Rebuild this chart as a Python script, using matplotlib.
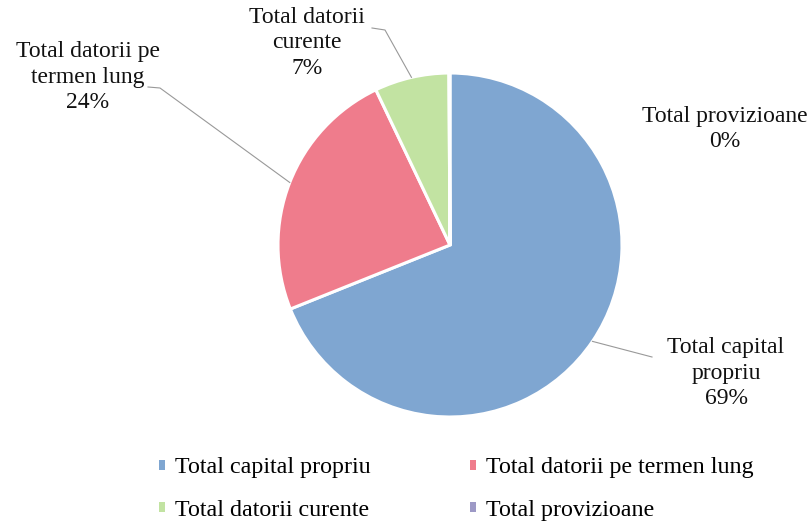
import numpy as np
import matplotlib
matplotlib.use("Agg")
import matplotlib.pyplot as plt

categories = ["Total capital propriu", "Total datorii pe termen lung",
              "Total datorii curente", "Total provizioane"]
label_texts = ["Total capital\npropriu", "Total datorii pe\ntermen lung",
               "Total datorii\ncurente", "Total provizioane"]
values = [69.0, 24.0, 7.0, 0.1]
colors = ["#7FA6D1", "#EF7C8C", "#C2E3A2", "#9D99C6"]

plt.rcParams['font.family'] = 'serif'
plt.rcParams['font.serif'] = ['Liberation Serif', 'DejaVu Serif']

W, H = 812, 525
fig = plt.figure(figsize=(W / 100, H / 100), dpi=100)
ax = fig.add_axes([0, 0, 1, 1])
cx, cy, R = 450, 245, 172
ax.axis('off')

wedges, _ = ax.pie(values, colors=colors, startangle=90, counterclock=False,
                   radius=1.0, center=(0, 0),
                   wedgeprops=dict(edgecolor='white', linewidth=2.2))
ax.set_xlim(-cx / R, (W - cx) / R)
ax.set_ylim(-(H - cy) / R, cy / R)
ax.set_aspect('equal', adjustable='datalim')

total = sum(values)
pcts = [f"{round(v / total * 100):.0f}%" for v in values]

def px(x, y):
    return ((x - cx) / R, (cy - y) / R)

# label positions (pixel coords) and leader-line end points
label_pos = [(726, 373), (88, 77), (307, 43), (725, 129)]
leader_end = [[(652, 357)], [(160, 88), (148, 87)], [(385, 30), (372, 28)], None]

for i, w in enumerate(wedges):
    ang = np.deg2rad((w.theta1 + w.theta2) / 2)
    ex, ey = np.cos(ang), np.sin(ang)
    lx, ly = px(*label_pos[i])
    ax.text(lx, ly, f"{label_texts[i]}\n{pcts[i]}", ha='center', va='center',
            fontsize=17, linespacing=1.3, color='#111111')
    if leader_end[i]:
        pts = [(ex, ey)] + [px(*p) for p in leader_end[i]]
        xs, ys = zip(*pts)
        ax.plot(xs, ys, color='#999999', lw=0.8)

order = [0, 2, 1, 3]
leg = fig.legend([wedges[i] for i in order], [categories[i] for i in order],
                 ncol=2, loc='center', bbox_to_anchor=(0.562, 0.068),
                 frameon=False, fontsize=17.3, handlelength=0.27, handleheight=0.27,
                 handletextpad=0.42, columnspacing=4.1, labelspacing=0.9,
                 borderpad=0.2)
for h in leg.legend_handles:
    h.set_edgecolor('none')

fig.savefig("out.png", dpi=100)
